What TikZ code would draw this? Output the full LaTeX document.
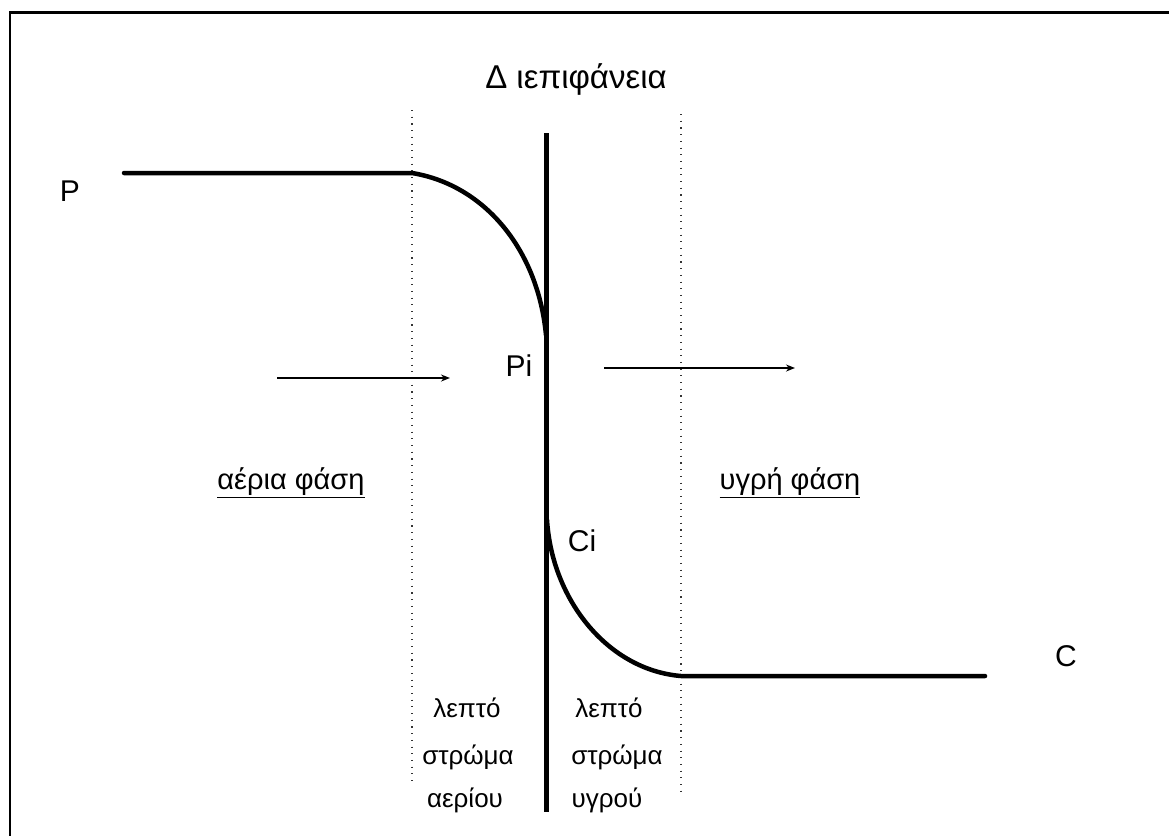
\documentclass[tikz,border=0pt]{standalone}
\usepackage{fontspec}
\setmainfont{Liberation Sans}
\usetikzlibrary{arrows.meta}
\begin{document}
\begin{tikzpicture}[x=1pt,y=-1pt,
  thick line/.style={line width=4.5pt},
  dotline/.style={line width=1.1pt,dash pattern=on 1.1pt off 5.6pt,black!80},
  flux/.style={line width=1.8pt,-{Stealth[length=9pt,width=7pt]}},
  ttl/.style={font=\fontsize{33}{36}\selectfont,inner sep=0pt},
  lab/.style={font=\fontsize{30}{34}\selectfont,inner sep=0pt},
  phase/.style={font=\fontsize{29}{33}\selectfont,inner sep=0pt},
  small/.style={font=\fontsize{26}{30}\selectfont,inner sep=0pt}]
\useasboundingbox (0,0) rectangle (1169,836);
% frame
\draw[line width=3pt] (9,12) -- (1169,12);
\draw[line width=2.2pt] (10,12) -- (10,836);
% title
\node[ttl] (title) at (576,79) {Δ ιεπιφάνεια};
% dotted film borders
\coordinate (dl1) at (412,110); \coordinate (dl2) at (412,785);
\coordinate (dr1) at (681,114); \coordinate (dr2) at (681,792);
\draw[dotline] (dl1) -- (dl2);
\draw[dotline] (dr1) -- (dr2);
% interface
\coordinate (i1) at (546,133); \coordinate (i2) at (546,812);
\draw[line width=5pt] (i1) -- (i2);
% profiles
\coordinate (p0) at (124,173); \coordinate (p1) at (412,173); \coordinate (pi) at (546,335);
\draw[thick line,line cap=round] (p0) -- (p1) .. controls (485,185) and (538,250) .. (pi);
\coordinate (ci) at (547,520); \coordinate (c1) at (681,676); \coordinate (c0) at (985,676);
\draw[thick line,line cap=round] (ci) .. controls (552,600) and (608,670) .. (c1) -- (c0);
% flux arrows
\coordinate (a1) at (277,378); \coordinate (a2) at (450,378);
\draw[flux] (a1) -- (a2);
\coordinate (b1) at (604,368); \coordinate (b2) at (795,368);
\draw[flux] (b1) -- (b2);
% labels
\node[lab] (P) at (70,191) {P};
\node[lab] (Pi) at (519,366) {Pi};
\node[lab] (Ci) at (582,541) {Ci};
\node[lab] (C) at (1066,656) {C};
\node[phase] (gas) at (291,483) {\underline{αέρια φάση}};
\node[phase] (liq) at (790,483) {\underline{υγρή φάση}};
\node[small] (l1) at (467,708) {λεπτό};
\node[small] (l2) at (468,757) {στρώμα};
\node[small] (l3) at (465,800) {αερίου};
\node[small] (r1) at (609,708) {λεπτό};
\node[small] (r2) at (617,757) {στρώμα};
\node[small] (r3) at (607,800) {υγρού};
\end{tikzpicture}
\end{document}
